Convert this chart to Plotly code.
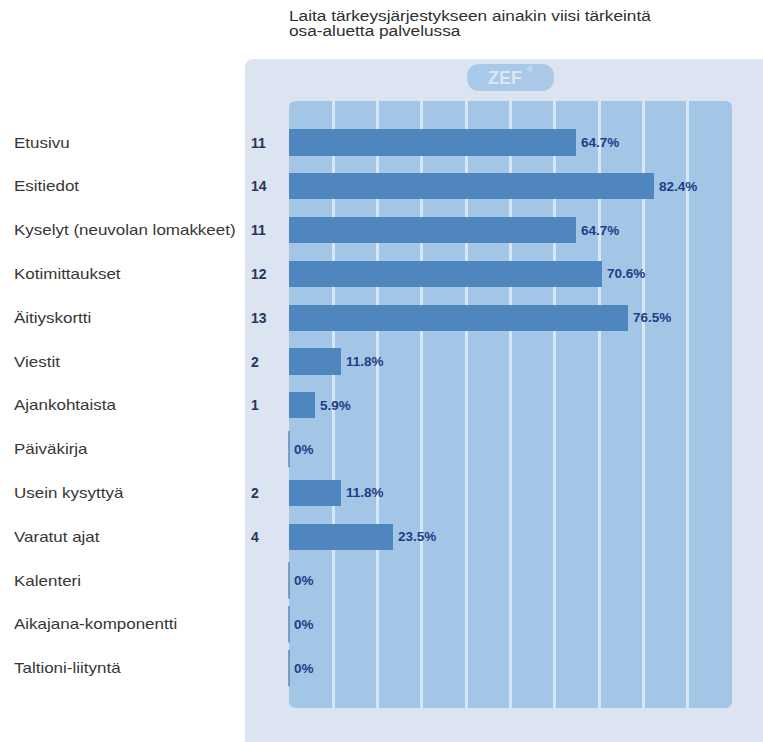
import json
import plotly.graph_objects as go

# Survey question and results (n = 17 respondents)
title_lines = [
    "Laita tärkeysjärjestykseen ainakin viisi tärkeintä",
    "osa-aluetta palvelussa",
]
categories = [
    "Etusivu",
    "Esitiedot",
    "Kyselyt (neuvolan lomakkeet)",
    "Kotimittaukset",
    "Äitiyskortti",
    "Viestit",
    "Ajankohtaista",
    "Päiväkirja",
    "Usein kysyttyä",
    "Varatut ajat",
    "Kalenteri",
    "Aikajana-komponentti",
    "Taltioni-liityntä",
]
counts = [11, 14, 11, 12, 13, 2, 1, 0, 2, 4, 0, 0, 0]
percents = [64.7, 82.4, 64.7, 70.6, 76.5, 11.8, 5.9, 0, 11.8, 23.5, 0, 0, 0]
grid_ticks = [10, 20, 30, 40, 50, 60, 70, 80, 90]

W, H = 763, 742
L, R, T, B = 289, 732, 101, 708  # plot area in pixels
ROW0, ROW_STEP = 142.5, 43.8      # pixel centre of first row and row pitch

PANEL = "#dce3f1"
INNER = "#a3c6e6"
GRID = "#d6e7f6"
BAR = "#4f86bf"
PCT_COLOR = "#1e3d87"
NUM_COLOR = "#27365a"
LABEL_COLOR = "#363636"
SANS = "Liberation Sans, Arial, sans-serif"


def px_x(x):
    return (x - L) / (R - L)


def px_y(y):
    return (B - y) / (B - T)


def rounded_rect(x0, y0, x1, y1, r):
    """SVG path (paper coordinates) for a rounded rectangle given in pixels."""
    pts = [
        ("M", (x0 + r, y0)),
        ("L", (x1 - r, y0)),
        ("Q", (x1, y0), (x1, y0 + r)),
        ("L", (x1, y1 - r)),
        ("Q", (x1, y1), (x1 - r, y1)),
        ("L", (x0 + r, y1)),
        ("Q", (x0, y1), (x0, y1 - r)),
        ("L", (x0, y0 + r)),
        ("Q", (x0, y0), (x0 + r, y0)),
    ]
    parts = []
    for item in pts:
        cmd = item[0]
        coords = " ".join(f"{px_x(p[0]):.5f},{px_y(p[1]):.5f}" for p in item[1:])
        parts.append(f"{cmd} {coords}")
    return " ".join(parts) + " Z"


n = len(categories)
rows = list(range(n))

fig = go.Figure()

fig.add_trace(
    go.Bar(
        x=percents,
        y=rows,
        orientation="h",
        width=0.6,
        marker=dict(color=BAR, line=dict(width=0)),
        hoverinfo="skip",
    )
)

# Zero-valued answers are shown as a thin tick at the baseline
zero_rows = [i for i, p in enumerate(percents) if p == 0]
fig.add_trace(
    go.Scatter(
        x=[percents[i] for i in zero_rows],
        y=zero_rows,
        mode="markers",
        marker=dict(symbol="line-ns", size=26, line=dict(color="#5b88b8", width=1.5)),
        hoverinfo="skip",
        cliponaxis=False,
    )
)

annotations = []
for i, (cat, c, p) in enumerate(zip(categories, counts, percents)):
    annotations.append(dict(
        x=px_x(12), xref="paper", y=i, yref="y", text=cat, showarrow=False,
        xanchor="left", yanchor="middle", align="left",
        font=dict(family=SANS, size=14.5, color=LABEL_COLOR),
    ))
    if c > 0:
        annotations.append(dict(
            x=px_x(249), xref="paper", y=i, yref="y", text=f"<b>{c}</b>", showarrow=False,
            xanchor="left", yanchor="middle",
            font=dict(family=SANS, size=14, color=NUM_COLOR),
        ))
    label = f"{p:g}%" if p == 0 else f"{p:.1f}%"
    annotations.append(dict(
        x=p, xref="x", y=i, yref="y", text=f"<b>{label}</b>", showarrow=False,
        xanchor="left", yanchor="middle", xshift=3,
        font=dict(family=SANS, size=13.5, color=PCT_COLOR),
    ))

# Question title, one annotation per line for tight line spacing
for line, yc in zip(title_lines, [16, 31]):
    annotations.append(dict(
        x=px_x(287), xref="paper", y=px_y(yc), yref="paper", text=line, showarrow=False,
        xanchor="left", yanchor="middle", align="left",
        font=dict(family=SANS, size=14, color="#2e2e2e"),
    ))

# Logo badge text
annotations.append(dict(
    x=px_x(505), xref="paper", y=px_y(78), yref="paper", text="<b>ZEF</b>", showarrow=False,
    xanchor="center", yanchor="middle",
    font=dict(family=SANS, size=18, color="#d9e7f6"),
))
annotations.append(dict(
    x=px_x(530), xref="paper", y=px_y(70), yref="paper", text="®", showarrow=False,
    xanchor="center", yanchor="middle",
    font=dict(family=SANS, size=8, color="#d9e7f6"),
))

shapes = [
    # outer light panel
    dict(type="path", xref="paper", yref="paper", layer="below",
         path=rounded_rect(245, 59, 775, 760, 9), fillcolor=PANEL, line=dict(width=0)),
    # inner plotting panel
    dict(type="path", xref="paper", yref="paper", layer="below",
         path=rounded_rect(L, T, R, B, 7), fillcolor=INNER, line=dict(width=0)),
    # logo pill
    dict(type="path", xref="paper", yref="paper", layer="below",
         path=rounded_rect(467, 64, 554, 91, 13.5), fillcolor="#a9c9e9", line=dict(width=0)),
]

fig.update_layout(
    width=W, height=H,
    margin=dict(l=L, r=W - R, t=T, b=H - B, pad=0),
    paper_bgcolor="white",
    plot_bgcolor="rgba(0,0,0,0)",
    showlegend=False,
    bargap=0,
    xaxis=dict(range=[0, 100], tickvals=grid_ticks, showticklabels=False,
               showgrid=True, gridcolor=GRID, gridwidth=2.5, zeroline=False,
               showline=False, ticks="", fixedrange=True),
    yaxis=dict(range=[(B - ROW0) / ROW_STEP, (T - ROW0) / ROW_STEP], showticklabels=False,
               showgrid=False, zeroline=False, showline=False, ticks="", fixedrange=True),
    annotations=annotations,
    shapes=shapes,
)

# The label and title lettering is set wide: stretch those texts horizontally
stretch = {c: 1.17 for c in categories}
stretch.update({t: 1.23 for t in title_lines})
post_js = """
var gd = document.getElementById('{plot_id}');
var factors = %s;
gd.querySelectorAll('text.annotation-text').forEach(function (el) {
    var f = factors[el.textContent];
    if (f) {
        var w = el.getComputedTextLength();
        el.setAttribute('textLength', (w * f).toFixed(1));
        el.setAttribute('lengthAdjust', 'spacingAndGlyphs');
    }
});
""" % json.dumps(stretch, ensure_ascii=False)

fig.write_html("out.html", post_script=post_js)
